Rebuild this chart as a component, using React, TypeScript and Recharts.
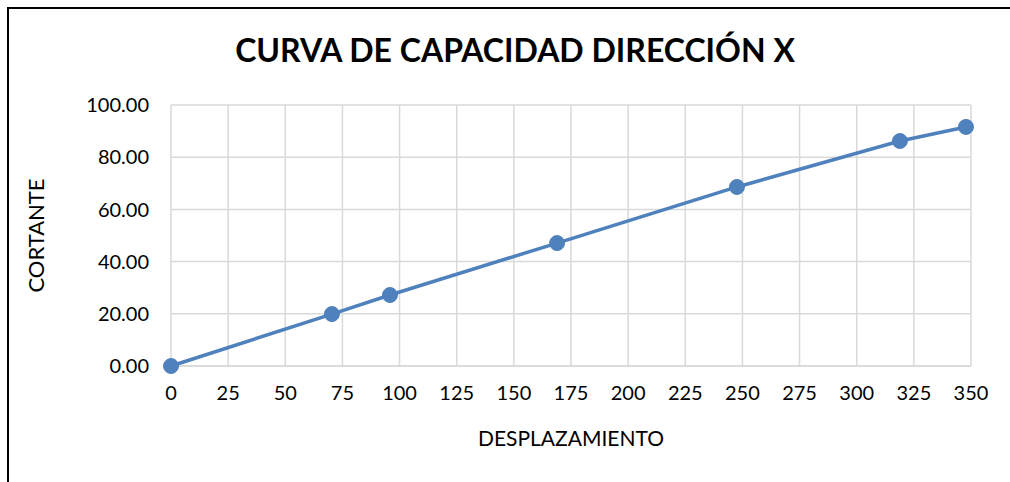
import { LineChart, Line, XAxis, YAxis, CartesianGrid } from "recharts";

const desplazamiento = [0, 70.4, 95.8, 168.9, 247.6, 318.9, 347.8];
const cortante = [0, 19.9, 27.2, 47.1, 68.6, 86.2, 91.6];
const xTicks = [0, 25, 50, 75, 100, 125, 150, 175, 200, 225, 250, 275, 300, 325, 350];
const yTicks = [0, 20, 40, 60, 80, 100];

const data = desplazamiento.map((x, i) => ({ x, y: cortante[i] }));

const font = "Lato, 'Open Sans', sans-serif";
const blue = "#4F81BD";

export default function App() {
    return (
        <div style={{ position: "absolute", left: 0, top: 0, width: 1010, height: 482, background: "#fff", fontFamily: font, overflow: "hidden" }}>
            {/* frame: only the top and left edges show */}
            <div style={{ position: "absolute", left: 7, top: 7, width: 1003, height: 2, background: "#000" }} />
            <div style={{ position: "absolute", left: 7, top: 7, width: 2, height: 475, background: "#000" }} />
            <div style={{ position: "absolute", left: 0, top: 30, width: 1030, textAlign: "center", fontSize: 32, fontWeight: 700, color: "#000" }}>
                CURVA DE CAPACIDAD DIRECCIÓN X
            </div>
            <div style={{ position: "absolute", left: 0, top: 0 }}>
                <LineChart width={1010} height={482} data={data} margin={{ top: 105, right: 39, bottom: 36, left: 11 }}>
                    <CartesianGrid stroke="#D9D9D9" strokeWidth={1.5} />
                    <XAxis
                        dataKey="x"
                        type="number"
                        domain={[0, 350]}
                        ticks={xTicks}
                        height={80}
                        axisLine={{ stroke: "#D9D9D9", strokeWidth: 1.5 }}
                        tickLine={false}
                        tickSize={0}
                        tickMargin={20}
                        tick={{ fill: "#000", fontSize: 20, fontFamily: font }}
                        label={{ value: "DESPLAZAMIENTO", position: "insideBottom", offset: 0, fill: "#000", fontSize: 21, fontFamily: font }}
                    />
                    <YAxis
                        type="number"
                        domain={[0, 100]}
                        ticks={yTicks}
                        width={160}
                        axisLine={false}
                        tickLine={false}
                        tickSize={0}
                        tickMargin={22}
                        tickFormatter={(v: number) => v.toFixed(2)}
                        tick={{ fill: "#000", fontSize: 20, fontFamily: font }}
                        label={{ value: "CORTANTE", angle: -90, position: "insideLeft", offset: 25, fill: "#000", fontSize: 22, fontFamily: font, style: { textAnchor: "middle" } }}
                    />
                    <Line
                        dataKey="y"
                        stroke={blue}
                        strokeWidth={3.5}
                        dot={{ r: 7.5, fill: blue, stroke: blue, strokeWidth: 1 }}
                        isAnimationActive={false}
                    />
                </LineChart>
            </div>
        </div>
    );
}
